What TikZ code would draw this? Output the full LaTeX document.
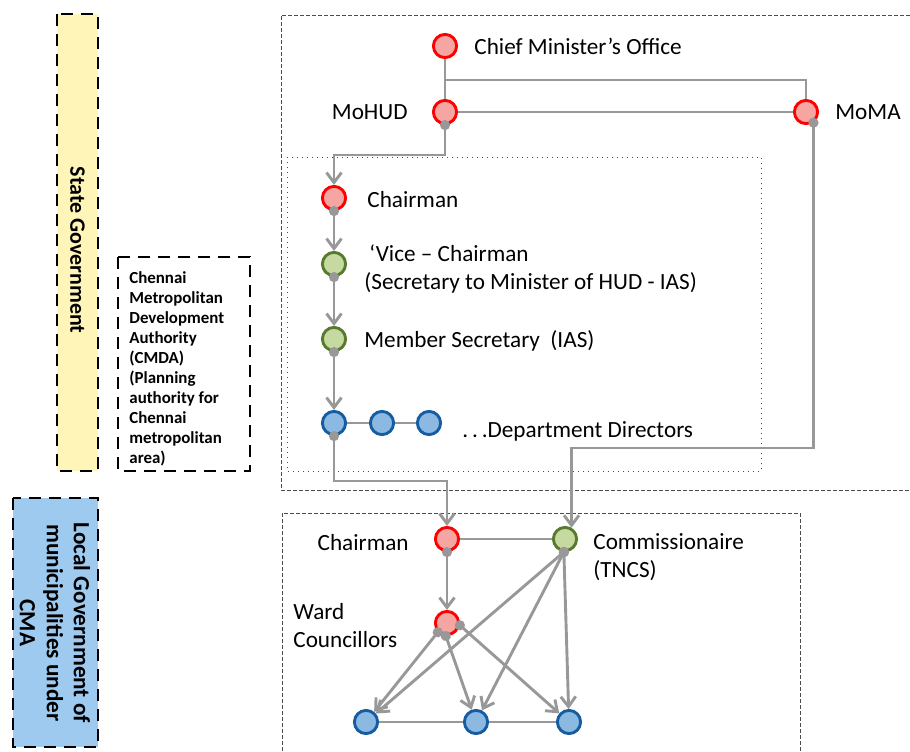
\documentclass[tikz,border=0pt]{standalone}
\usepackage{fontspec}
\setmainfont{Carlito}
\usetikzlibrary{arrows.meta,positioning,calc}
\definecolor{lnGray}{RGB}{152,152,152}
\definecolor{redFill}{RGB}{245,166,163}
\definecolor{greenFill}{RGB}{198,217,160}
\definecolor{greenDraw}{RGB}{88,122,46}
\definecolor{blueFill}{RGB}{140,185,225}
\definecolor{blueDraw}{RGB}{22,92,160}
\definecolor{stateYellow}{RGB}{255,245,185}
\definecolor{localBlue}{RGB}{158,202,240}

\begin{document}
\begin{tikzpicture}[x=0.5pt, y=-0.5pt,
      every node/.style={font=\fontsize{11.6}{14}\selectfont},
      nd/.style={circle, line width=1.45pt, minimum size=11.6pt, inner sep=0pt},
      rn/.style={nd, draw=red, fill=redFill},
      gn/.style={nd, draw=greenDraw, fill=greenFill},
      bn/.style={nd, draw=blueDraw, fill=blueFill},
      lb/.style={inner sep=0pt, align=left},
      ln/.style={lnGray, line width=1.45pt},
      tl/.style={ln, {Circle[length=5pt]}-{Straight Barb[length=5pt,width=7.5pt]},
                 shorten <=-2.5pt},
      gbox/.style={line width=1.4pt, dash pattern=on 6pt off 4pt},
      sbox/.style={draw=black!70, line width=0.5pt, dash pattern=on 2pt off 1pt},
      ibox/.style={draw=black!70, line width=0.5pt, dotted}
    ]
    \useasboundingbox (0,0) rectangle (910,751);
    % side boxes
    \draw[gbox, fill=stateYellow] (57,14) rectangle (98,471);
    \node[rotate=-90, font=\fontsize{11}{13.5}\selectfont\bfseries] (sg) at (77.5,250) {State Government};
    \draw[gbox] (118,257) rectangle (250,471);
    \node[lb, anchor=west, font=\fontsize{8.45}{10}\selectfont\bfseries] (cmda) at (129,369)
      {Chennai\\Metropolitan\\Development\\Authority\\(CMDA)\\(Planning\\authority for\\Chennai\\metropolitan\\area)};
    \draw[gbox, fill=localBlue] (13,498) rectangle (98,747);
    \node[rotate=-90, align=center, font=\fontsize{11.6}{13.5}\selectfont\bfseries] (lg) at (55,623)
      {Local Government of\\municipalities under\\CMA};
    % group frames
    \draw[sbox] (910,15) -- (281,15) -- (281,490) -- (910,490);
    \draw[ibox] (287,157) rectangle (761,471);
    \draw[sbox] (282,751) -- (282,513) -- (800,513) -- (800,751);
    % state level
    \node[rn] (cmo) at (445,46) {};
    \node[rn] (mohud) at (445,112) {};
    \node[rn] (moma) at (806,112) {};
    \node[lb, anchor=west] (cmoL) at (474,46) {Chief Minister’s Office};
    \node[lb, anchor=east] (mohudL) at (408,112) {MoHUD};
    \node[lb, anchor=west] (momaL) at (835,112) {MoMA};
    % CMDA
    \node[rn] (ch) at (334,198) {};
    \node[gn] (vc) at (334,264) {};
    \node[gn] (ms) at (334,339) {};
    \node[bn] (d1) at (334,423) {};
    \node[bn] (d2) at (382,423) {};
    \node[bn] (d3) at (429,423) {};
    \node[lb, anchor=west] (chL) at (367,200) {Chairman};
    \node[lb, anchor=west] (vcL) at (364,269) {\hspace*{2.5pt}‘Vice – Chairman\\(Secretary to Minister of HUD - IAS)};
    \node[lb, anchor=west] (msL) at (364,341) {Member Secretary\ \ (IAS)};
    \node[lb, anchor=west] (dL) at (462,431) {.\,.\,.Department Directors};
    % local government
    \node[rn] (lch) at (447,539) {};
    \node[gn] (com) at (565,539) {};
    \node[rn] (wc) at (447,623) {};
    \node[bn] (b1) at (366,722) {};
    \node[bn] (b2) at (476,722) {};
    \node[bn] (b3) at (569,722) {};
    \node[lb, anchor=east] (lchL) at (409,543) {Chairman};
    \node[lb, anchor=west] (comL) at (593,557) {Commissionaire\\(TNCS)};
    \node[lb, anchor=west] (wcL) at (293,626) {Ward\\Councillors};
    % bends
    \coordinate (cb) at (cmo.south |- 0,80);
    \coordinate (hb) at (mohud.south |- 0,155);
    \coordinate (mb) at (com.60 |- 0,448);
    \coordinate (db) at (d1.south |- 0,481);
    % edges
    \draw[ln] (cmo.south) -- (mohud.north);
    \draw[ln] (cb) -| (moma.north);
    \draw[ln] (mohud.east) -- (moma.west);
    \draw[tl] (mohud.south) -- (hb) -| (ch.north);
    \draw[tl] (ch.south) -- (vc.north);
    \draw[tl] (vc.south) -- (ms.north);
    \draw[tl] (ms.south) -- (d1.north);
    \draw[ln] (d1) -- (d2); \draw[ln] (d2) -- (d3);
    \draw[tl] (d1.south) -- (db) -| (lch.north);
    \draw[tl] (moma.-55) |- (mb) -- (com.60);
    \draw[ln] (lch) -- (com);
    \draw[tl] (lch.south) -- (wc.north);
    \draw[tl] (wc.-135) -- (b1);
    \draw[tl] (wc.-95) -- (b2);
    \draw[tl] (wc.-10) -- (b3);
    \draw[tl] (com.-95) -- (b1);
    \draw[tl] (com.-95) -- (b2);
    \draw[tl] (com.-95) -- (b3);
    \draw[ln] (b1) -- (b2); \draw[ln] (b2) -- (b3);
  \end{tikzpicture}
\end{document}
